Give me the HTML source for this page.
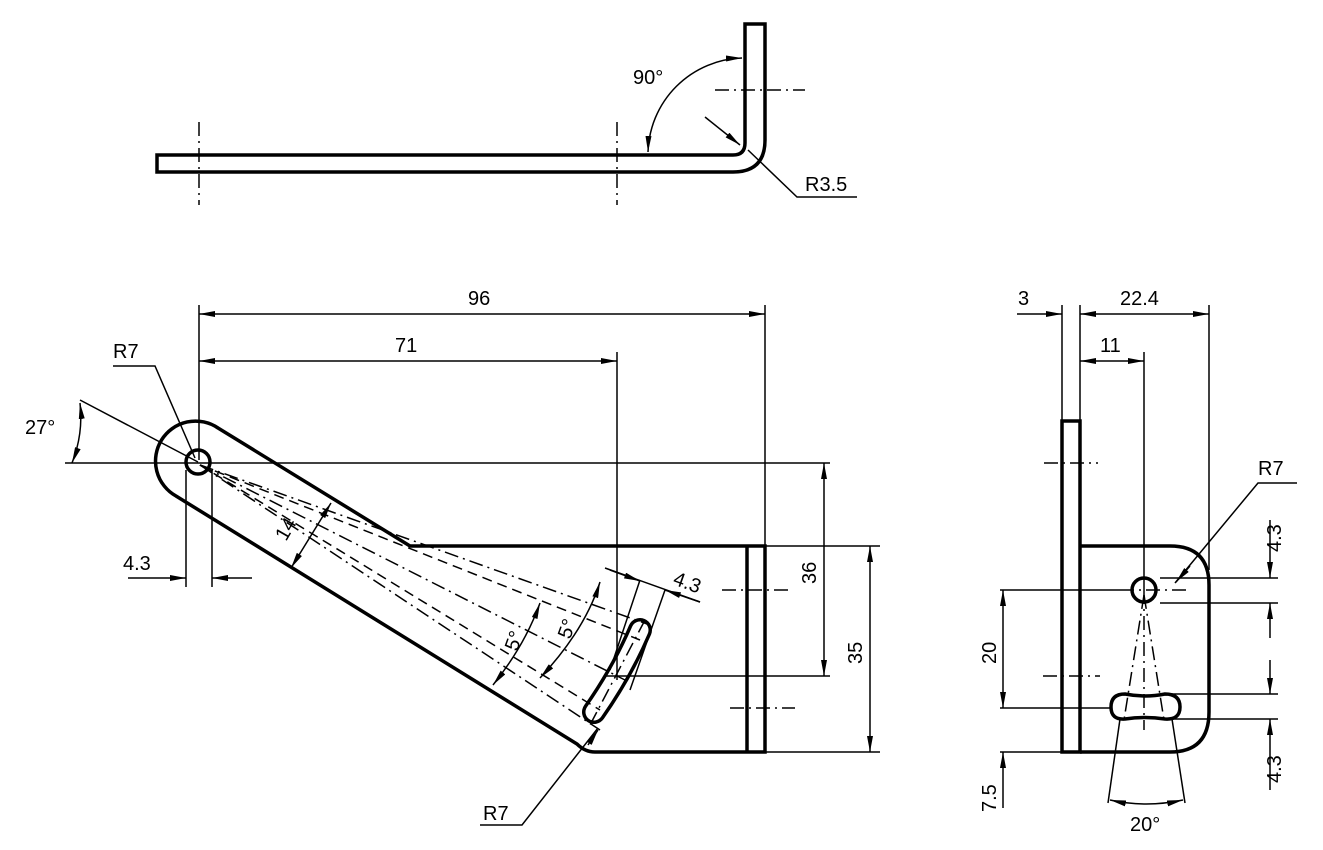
<!DOCTYPE html>
<html><head><style>body{margin:0;background:#fff}svg{display:block}text{font-family:"Liberation Sans",sans-serif;font-size:20px;fill:#000}</style></head>
<body>
<svg width="1323" height="850" viewBox="0 0 1323 850" xmlns="http://www.w3.org/2000/svg">
<defs>
<marker id="a" viewBox="0 0 16 6" refX="16" refY="3" markerWidth="16" markerHeight="6" orient="auto-start-reverse" markerUnits="userSpaceOnUse"><path d="M0,0 L16,3 L0,6 Z" fill="#000"/></marker>
</defs>
<g fill="none" stroke="#000">
<path d="M157,155 L733,155 Q745,155 745,143 L745,24 L765,24 L765,140 Q765,172 733,172 L157,172 Z" stroke-width="3.5"/>
<g stroke-width="1.5" stroke-dasharray="14,5,2,5">
<line x1="199" y1="122" x2="199" y2="205"/><line x1="617" y1="122" x2="617" y2="205"/>
<line x1="715" y1="90" x2="805" y2="90"/>
</g>
<g stroke-width="1.5">
<path d="M648,152 A97,97 0 0 1 742,58" marker-start="url(#a)" marker-end="url(#a)"/>
<line x1="705" y1="117" x2="740" y2="145" marker-end="url(#a)"/>
<polyline points="748,150 797,197 857,197"/>
</g>
<path d="M218,428 L410,546 L765,546 L765,752 L595,752 Q585,752 577,744 L176,496 A40,40 0 1 1 218,428 Z" stroke-width="3.5"/>
<line x1="747" y1="546" x2="747" y2="752" stroke-width="3.5"/>
<circle cx="198" cy="462" r="12" stroke-width="3.5"/>
<path d="M640,630 Q622,672 594,712" stroke-width="24" stroke-linecap="round"/>
<path d="M640,630 Q622,672 594,712" stroke-width="17" stroke="#fff" stroke-linecap="round"/>
<g stroke-width="1.5">
<line x1="199" y1="305" x2="199" y2="460"/><line x1="765" y1="305" x2="765" y2="546"/>
<line x1="199" y1="314" x2="765" y2="314" marker-start="url(#a)" marker-end="url(#a)"/>
<line x1="617" y1="352" x2="617" y2="680"/>
<line x1="199" y1="361" x2="617" y2="361" marker-start="url(#a)" marker-end="url(#a)"/>
<line x1="65" y1="463" x2="830" y2="463"/>
<line x1="765" y1="546" x2="880" y2="546"/><line x1="765" y1="752" x2="880" y2="752"/>
<line x1="605" y1="676" x2="830" y2="676"/>
<line x1="824" y1="463" x2="824" y2="676" marker-start="url(#a)" marker-end="url(#a)"/>
<line x1="870" y1="546" x2="870" y2="752" marker-start="url(#a)" marker-end="url(#a)"/>
<line x1="80" y1="400" x2="198" y2="462"/>
<path d="M80,403 A125,125 0 0 1 72,463" marker-start="url(#a)" marker-end="url(#a)"/>
<polyline points="113,366 155,366 195,458"/>
<line x1="186" y1="470" x2="186" y2="587"/><line x1="212" y1="470" x2="212" y2="587"/>
<line x1="128" y1="578" x2="186" y2="578" marker-end="url(#a)"/><line x1="252" y1="578" x2="212" y2="578" marker-end="url(#a)"/>
<line x1="331" y1="503" x2="291" y2="568" marker-start="url(#a)" marker-end="url(#a)"/>
<line x1="605" y1="568" x2="700" y2="602"/>
<line x1="610" y1="570" x2="640" y2="581" marker-end="url(#a)"/>
<line x1="700" y1="602" x2="665" y2="590" marker-end="url(#a)"/>
<line x1="640" y1="580" x2="610" y2="670"/><line x1="665" y1="590" x2="630" y2="690"/>
<path d="M493,685 Q525,645 540,603" marker-start="url(#a)" marker-end="url(#a)"/>
<path d="M540,678 Q585,630 600,582" marker-start="url(#a)" marker-end="url(#a)"/>
<polyline points="598,728 522,825 480,825"/>
<line x1="588" y1="745" x2="598" y2="730" marker-end="url(#a)"/>
</g>
<g stroke-width="1.5" stroke-dasharray="14,5,2,5">
<line x1="200" y1="465" x2="650" y2="625"/>
<line x1="200" y1="465" x2="625" y2="680"/>
<line x1="200" y1="465" x2="600" y2="730"/>
<line x1="722" y1="590" x2="790" y2="590"/>
<line x1="730" y1="708" x2="795" y2="708"/>
<line x1="645" y1="620" x2="590" y2="725"/>
</g>
<g stroke-width="1.5" stroke-dasharray="10,6">
<line x1="200" y1="465" x2="640" y2="640"/>
<line x1="200" y1="465" x2="600" y2="710"/>
</g>
<rect x="1062" y="421" width="18" height="331" stroke-width="3.5"/>
<path d="M1080,546 L1170,546 Q1209,546 1209,585 L1209,712 Q1209,752 1170,752 L1080,752" stroke-width="3.5"/>
<circle cx="1144" cy="590" r="12" stroke-width="3.5"/>
<path d="M1125,694 Q1145,698 1165,694 Q1180,694 1180,707 Q1180,720 1165,719 Q1145,716 1125,719 Q1111,720 1111,707 Q1111,694 1125,694 Z" stroke-width="3.5"/>
<g stroke-width="1.5">
<line x1="1062" y1="305" x2="1062" y2="421"/><line x1="1080" y1="305" x2="1080" y2="421"/>
<line x1="1017" y1="314" x2="1062" y2="314" marker-end="url(#a)"/>
<line x1="1080" y1="314" x2="1209" y2="314" marker-start="url(#a)" marker-end="url(#a)"/>
<line x1="1209" y1="305" x2="1209" y2="570"/>
<line x1="1144" y1="352" x2="1144" y2="590"/>
<line x1="1080" y1="361" x2="1144" y2="361" marker-start="url(#a)" marker-end="url(#a)"/>
<polyline points="1297,483 1258,483 1175,583"/>
<line x1="1190" y1="566" x2="1176" y2="582" marker-end="url(#a)"/>
<line x1="1160" y1="578" x2="1278" y2="578"/><line x1="1160" y1="603" x2="1278" y2="603"/>
<line x1="1270" y1="520" x2="1270" y2="578" marker-end="url(#a)"/>
<line x1="1270" y1="638" x2="1270" y2="603" marker-end="url(#a)"/>
<line x1="1160" y1="694" x2="1278" y2="694"/><line x1="1160" y1="719" x2="1278" y2="719"/>
<line x1="1270" y1="660" x2="1270" y2="694" marker-end="url(#a)"/>
<line x1="1270" y1="790" x2="1270" y2="719" marker-end="url(#a)"/>
<line x1="1000" y1="590" x2="1120" y2="590"/><line x1="1000" y1="708" x2="1112" y2="708"/>
<line x1="1000" y1="752" x2="1062" y2="752"/>
<line x1="1003" y1="590" x2="1003" y2="708" marker-start="url(#a)" marker-end="url(#a)"/>
<line x1="1003" y1="808" x2="1003" y2="752" marker-end="url(#a)"/>
<line x1="1120" y1="719" x2="1108" y2="803"/><line x1="1172" y1="719" x2="1185" y2="803"/>
<path d="M1110,800 Q1146,808 1183,800" marker-start="url(#a)" marker-end="url(#a)"/>
</g>
<g stroke-width="1.5" stroke-dasharray="14,5,2,5">
<line x1="1044" y1="463" x2="1098" y2="463"/><line x1="1043" y1="676" x2="1100" y2="676"/>
<line x1="1120" y1="590" x2="1190" y2="590"/>
<line x1="1144" y1="590" x2="1144" y2="730"/>
<line x1="1144" y1="595" x2="1124" y2="720"/><line x1="1144" y1="595" x2="1164" y2="720"/>
</g>
</g>
<text x="633" y="84">90°</text>
<text x="805" y="191">R3.5</text>
<text x="468" y="305">96</text>
<text x="395" y="352">71</text>
<text x="113" y="358">R7</text>
<text x="25" y="434">27°</text>
<text x="123" y="570">4.3</text>
<text x="483" y="820">R7</text>
<text transform="translate(286,542) rotate(-60)">14</text>
<text transform="translate(672,584) rotate(20)">4.3</text>
<text transform="translate(517,652) rotate(-70)">5°</text>
<text transform="translate(570,640) rotate(-70)">5°</text>
<text transform="translate(816,584) rotate(-90)">36</text>
<text transform="translate(862,664) rotate(-90)">35</text>
<text x="1018" y="305">3</text>
<text x="1120" y="305">22.4</text>
<text x="1100" y="352">11</text>
<text x="1258" y="475">R7</text>
<text transform="translate(1281,552) rotate(-90)">4.3</text>
<text transform="translate(1281,783) rotate(-90)">4.3</text>
<text transform="translate(996,664) rotate(-90)">20</text>
<text transform="translate(996,812) rotate(-90)">7.5</text>
<text x="1130" y="831">20°</text>
</svg>
</body></html>
